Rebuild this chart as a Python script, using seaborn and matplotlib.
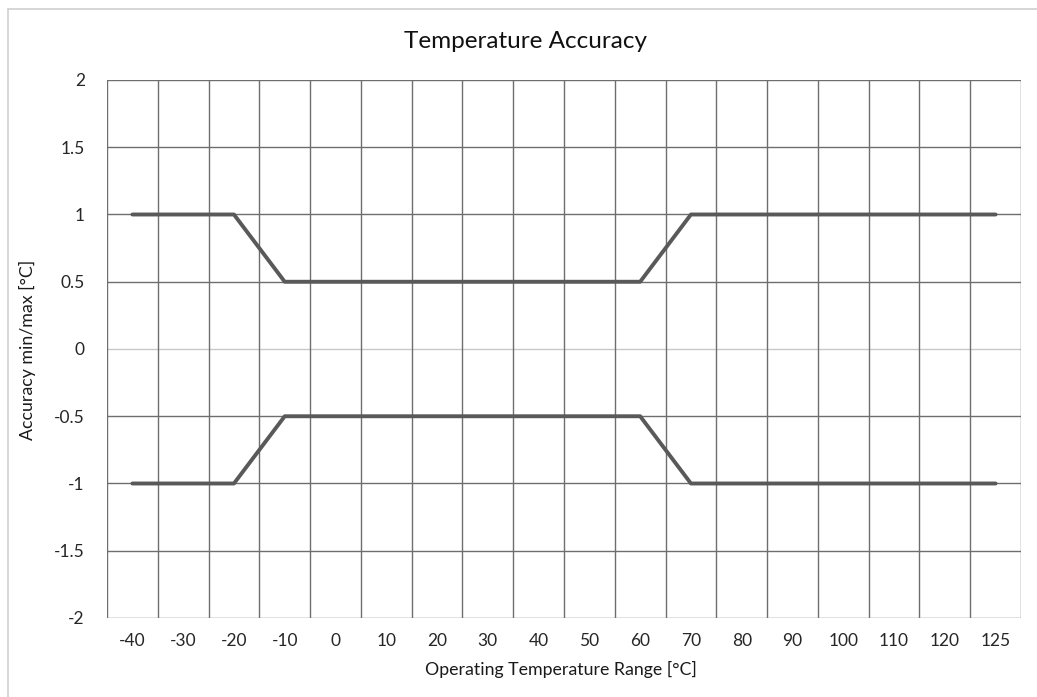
import numpy as np
import matplotlib
matplotlib.use("Agg")
import matplotlib.pyplot as plt
import seaborn as sns
import pandas as pd
from matplotlib.patches import Rectangle

temps = ["-40", "-30", "-20", "-10", "0", "10", "20", "30", "40", "50",
         "60", "70", "80", "90", "100", "110", "120", "125"]
acc_max = [1, 1, 1, 0.5, 0.5, 0.5, 0.5, 0.5, 0.5, 0.5,
           0.5, 1, 1, 1, 1, 1, 1, 1]
acc_min = [-1, -1, -1, -0.5, -0.5, -0.5, -0.5, -0.5, -0.5, -0.5,
           -0.5, -1, -1, -1, -1, -1, -1, -1]
y_ticks = [-2, -1.5, -1, -0.5, 0, 0.5, 1, 1.5, 2]

df = pd.DataFrame({"temp": temps * 2,
                   "acc": acc_max + acc_min,
                   "series": ["max"] * len(temps) + ["min"] * len(temps)})

sns.set_style("white")
plt.rcParams["font.family"] = ["Lato", "DejaVu Sans"]

fig = plt.figure(figsize=(10.37, 6.97), dpi=100)
ax = fig.add_axes([107 / 1037, 1 - 618 / 697, (1021 - 107) / 1037, (618 - 80) / 697])

grid_c = "#6e6e6e"
# horizontal gridlines
for v in y_ticks:
    c = "#c8c8c8" if v == 0 else grid_c
    ax.axhline(v, color=c, lw=1.0, zorder=1)
# vertical gridlines at category boundaries
for b in np.arange(len(temps) + 1) - 0.5:
    ax.axvline(b, color=grid_c, lw=1.0, zorder=1)

sns.lineplot(data=df, x="temp", y="acc", units="series", estimator=None,
             sort=False, color="#595959", lw=2.8, ax=ax, zorder=3)

ax.set_xlim(-0.5, len(temps) - 0.5)
ax.set_ylim(-2, 2)
ax.set_yticks(y_ticks)
ax.set_yticklabels([f"{v:g}" for v in y_ticks])
ax.set_xticks(range(len(temps)))
ax.set_xticklabels(temps)
ax.tick_params(axis="both", length=0, labelsize=12.5, colors="#262626")
ax.tick_params(axis="y", pad=16)
ax.tick_params(axis="x", pad=11)
for s in ax.spines.values():
    s.set_visible(False)
ax.set_xlabel("")
ax.set_ylabel("")

fig.text(525 / 1037, 1 - 42 / 697, "Temperature Accuracy", ha="center", va="center",
         fontsize=17.5, color="#111111")
fig.text(561 / 1037, 1 - 669 / 697, "Operating Temperature Range [°C]", ha="center",
         va="center", fontsize=12.8, color="#1a1a1a")
fig.text(27 / 1037, 1 - 350 / 697, "Accuracy min/max [°C]", ha="center", va="center",
         rotation=90, fontsize=12.8, color="#1a1a1a")

# outer chart border
fig.patches.append(Rectangle((8 / 1037, -0.05), 1.1, 1 - 9 / 697 + 0.05,
                             transform=fig.transFigure, fill=False,
                             edgecolor="#d0d0d0", lw=1.2))

fig.savefig("out.png", dpi=100)
